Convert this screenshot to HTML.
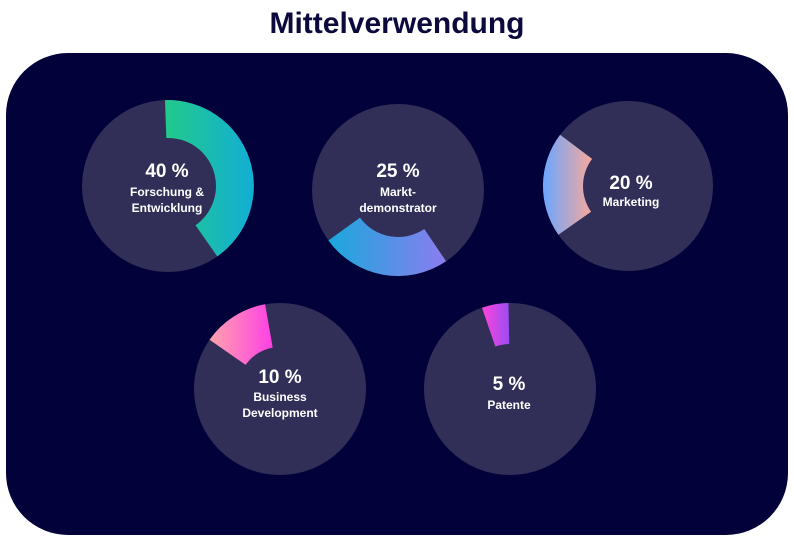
<!DOCTYPE html>
<html><head><meta charset="utf-8"><style>
html,body{margin:0;padding:0;background:#fff;width:794px;height:542px;overflow:hidden}
svg{display:block}
text{font-family:"Liberation Sans","DejaVu Sans",sans-serif;font-weight:bold;fill:#fff;text-anchor:middle}
</style></head><body>
<svg id="s" width="794" height="542" viewBox="0 0 794 542">
<defs>
<linearGradient id="g1" x1="0" x2="1" y1="0" y2="0"><stop offset="0" stop-color="#22c98a"/><stop offset="1" stop-color="#12aed6"/></linearGradient>
<linearGradient id="g2" x1="0" x2="1" y1="0" y2="0"><stop offset="0" stop-color="#1aa8dc"/><stop offset="1" stop-color="#8c7cf0"/></linearGradient>
<linearGradient id="g3" x1="0" x2="1" y1="0" y2="0"><stop offset="0" stop-color="#6aa6ff"/><stop offset="1" stop-color="#f8a89c"/></linearGradient>
<linearGradient id="g4" x1="0" x2="1" y1="0" y2="0"><stop offset="0" stop-color="#ffa3ac"/><stop offset="1" stop-color="#ff40e6"/></linearGradient>
<linearGradient id="g5" x1="0" x2="1" y1="0" y2="0"><stop offset="0" stop-color="#ff44dc"/><stop offset="1" stop-color="#9a4cf2"/></linearGradient>
</defs>
<text x="397" y="33" style="font-size:30px;fill:#0c0a3c">Mittelverwendung</text>
<rect x="6" y="53" width="782" height="482" rx="62" fill="#02013a"/>
<g id="arcs"></g>
<text x="167" y="177" style="font-size:19px">40 %</text>
<text x="167" y="196" style="font-size:12px">Forschung &amp;</text>
<text x="167" y="212" style="font-size:12px">Entwicklung</text>
<text x="398" y="177" style="font-size:19px">25 %</text>
<text x="398" y="196" style="font-size:12px">Markt-</text>
<text x="398" y="212" style="font-size:12px">demonstrator</text>
<text x="631" y="189" style="font-size:19px">20 %</text>
<text x="631" y="206" style="font-size:12px">Marketing</text>
<text x="280" y="383" style="font-size:19px">10 %</text>
<text x="280" y="401" style="font-size:12px">Business</text>
<text x="280" y="417" style="font-size:12px">Development</text>
<text x="509" y="390" style="font-size:19px">5 %</text>
<text x="509" y="409" style="font-size:12px">Patente</text>
</svg>
<script>
var d=[[168,186,86,48,-2,145,'g1'],[398,190,86,47,146,234,'g2'],[628,186,85,45,235,307,'g3'],[280,389,86,42,305,350,'g4'],[510,389,86,45,341,359,'g5']];
var g=document.getElementById('arcs'),h='';
function p(cx,cy,r,a){a=a*Math.PI/180;return (cx+r*Math.sin(a)).toFixed(1)+','+(cy-r*Math.cos(a)).toFixed(1);}
d.forEach(function(c){var cx=c[0],cy=c[1],R=c[2],r=c[3],a0=c[4],a1=c[5];var l=(a1-a0)>180?1:0;
h+='<circle cx="'+cx+'" cy="'+cy+'" r="'+R+'" fill="#312f57"/>';
h+='<path fill="url(#'+c[6]+')" d="M'+p(cx,cy,R,a0)+'A'+R+','+R+' 0 '+l+' 1 '+p(cx,cy,R,a1)+'L'+p(cx,cy,r,a1)+'A'+r+','+r+' 0 '+l+' 0 '+p(cx,cy,r,a0)+'Z"/>';});
g.innerHTML=h;
</script>
</body></html>
